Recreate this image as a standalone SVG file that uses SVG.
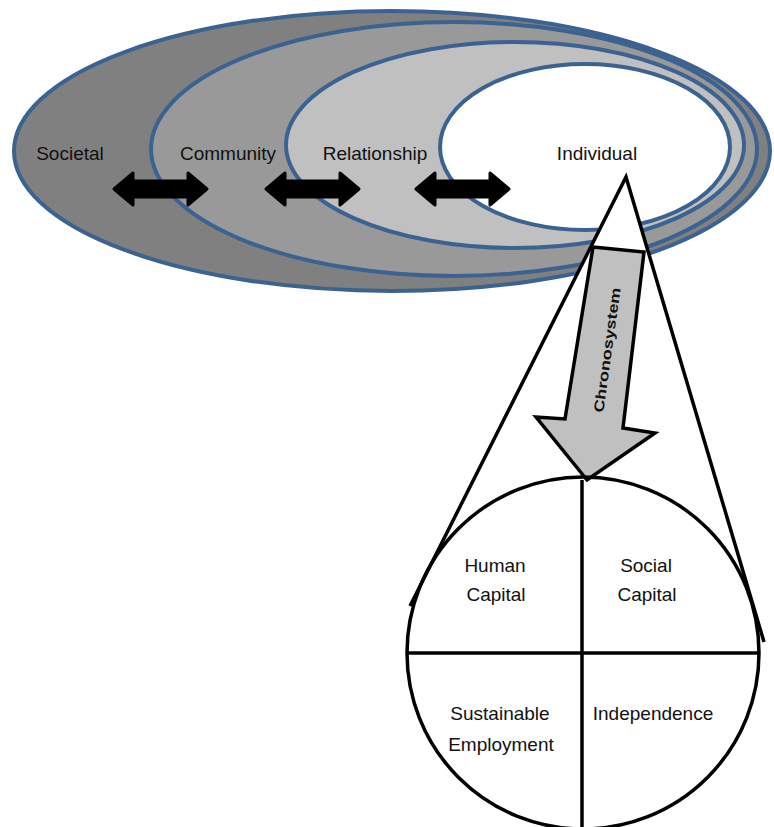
<svg xmlns="http://www.w3.org/2000/svg" xmlns:xlink="http://www.w3.org/1999/xlink" width="774" height="827" viewBox="0 0 774 827">
<style>
.ring{stroke:#3b6291;stroke-width:4}
.lbl{font-family:"Liberation Sans",Arial,sans-serif;font-size:19px;fill:#111;text-anchor:middle}
.blk{fill:none;stroke:#000;stroke-width:3.5}
.dbl{fill:#000;stroke:#000;stroke-width:3;stroke-linejoin:round}
</style>
<defs>
<path id="dblArrow" d="M0,0 L19,-16 L19,-8 L74,-8 L74,-16 L93,0 L74,16 L74,8 L19,8 L19,16 Z"/>
</defs>
<rect width="774" height="827" fill="#fff"/>
<g id="societal">
<ellipse class="ring" cx="392" cy="151" rx="378" ry="140" fill="#808080"/>
<text class="lbl" x="70" y="160">Societal</text>
</g>
<g id="community">
<ellipse class="ring" cx="454" cy="149" rx="303" ry="127" fill="#999999"/>
<text class="lbl" x="228" y="160">Community</text>
</g>
<g id="relationship">
<ellipse class="ring" cx="515" cy="145" rx="229" ry="103" fill="#c0c0c0"/>
<text class="lbl" x="375" y="160">Relationship</text>
</g>
<g id="individual">
<ellipse class="ring" cx="585" cy="147" rx="145" ry="83" fill="#ffffff"/>
<text class="lbl" x="597" y="160">Individual</text>
</g>
<g id="connectors">
<use xlink:href="#dblArrow" class="dbl" x="114" y="189"/>
<use xlink:href="#dblArrow" class="dbl" x="266" y="189"/>
<use xlink:href="#dblArrow" class="dbl" x="416" y="189"/>
</g>
<g id="cone">
<polygon points="626,177 410,606 764,642" fill="#fff"/>
<polyline class="blk" points="410,606 626,177 764,642" stroke-linejoin="miter"/>
</g>
<g id="chronosystem">
<polygon points="593,247 644,252 623,428 655,433 587,480 536,417 565,419" fill="#c0c0c0" stroke="#000" stroke-width="3.5" stroke-linejoin="miter"/>
<text x="0" y="0" transform="translate(607,350) rotate(-82)" font-family="Liberation Sans, Arial, sans-serif" font-size="14" font-weight="bold" fill="#111" text-anchor="middle" dominant-baseline="central" textLength="126" lengthAdjust="spacingAndGlyphs">Chronosystem</text>
</g>
<g id="outcomes">
<circle class="blk" cx="583" cy="653" r="176" fill="#fff"/>
<line class="blk" x1="407" y1="653" x2="759" y2="653"/>
<line class="blk" x1="582" y1="480" x2="582" y2="827"/>
</g>
<g id="human-capital">
<text class="lbl" x="495" y="572">Human</text>
<text class="lbl" x="496" y="601">Capital</text>
</g>
<g id="social-capital">
<text class="lbl" x="646" y="572">Social</text>
<text class="lbl" x="647" y="601">Capital</text>
</g>
<g id="sustainable-employment">
<text class="lbl" x="500" y="720">Sustainable</text>
<text class="lbl" x="501" y="751">Employment</text>
</g>
<g id="independence">
<text class="lbl" x="653" y="720">Independence</text>
</g>
</svg>
